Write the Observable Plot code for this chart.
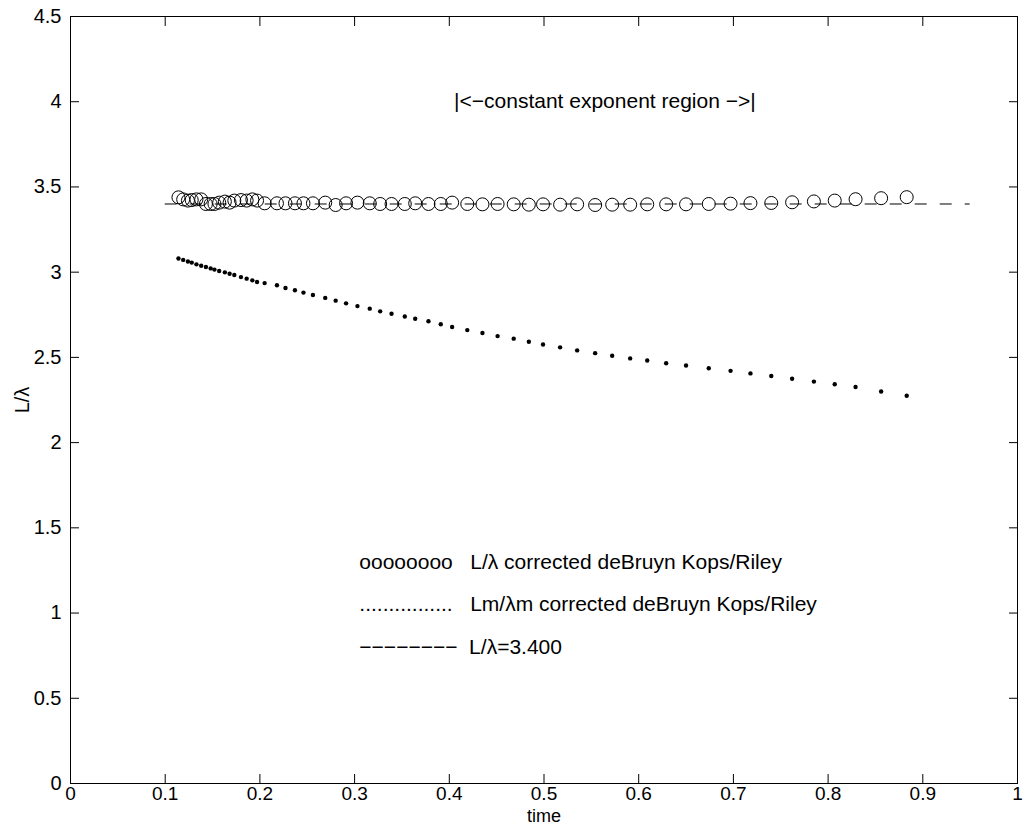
<!DOCTYPE html>
<html>
<head>
<meta charset="utf-8">
<script src="https://cdn.jsdelivr.net/npm/d3@7"></script>
<script src="https://cdn.jsdelivr.net/npm/@observablehq/plot@0.6"></script>
<style>
  html, body { margin: 0; padding: 0; background: #fff; }
  #chart svg { display: block; }
  #chart svg text { font-family: 'Liberation Sans', Arial, sans-serif; }
  #chart svg g[aria-label="y-axis tick label"] text,
  #chart svg g[aria-label="y-axis label"] text { font-size: 20px; }
  #chart svg g[aria-label="x-axis tick label"] text { font-size: 19px; }
  #chart svg g[aria-label="x-axis label"] text { font-size: 18px; }
  #chart svg g[aria-label="text"] text { font-size: 21px; }
</style>
</head>
<body>
<div id="chart"></div>
<script>
// ---- data ----
const time = [0.114, 0.119, 0.124, 0.128, 0.133, 0.138, 0.143, 0.148, 0.152, 0.157,
  0.163, 0.168, 0.173, 0.180, 0.186, 0.192, 0.197, 0.205, 0.218, 0.227,
  0.237, 0.246, 0.256, 0.269, 0.280, 0.291, 0.303, 0.316, 0.327, 0.339,
  0.353, 0.364, 0.378, 0.391, 0.403, 0.419, 0.435, 0.451, 0.468, 0.484,
  0.499, 0.517, 0.535, 0.554, 0.572, 0.591, 0.609, 0.629, 0.650, 0.674,
  0.697, 0.718, 0.740, 0.762, 0.785, 0.807, 0.829, 0.856, 0.883];

const ratioCorrected = [3.439, 3.427, 3.420, 3.423, 3.427, 3.427, 3.400, 3.400, 3.400, 3.408,
  3.414, 3.408, 3.420, 3.423, 3.420, 3.427, 3.420, 3.404, 3.404, 3.404,
  3.404, 3.404, 3.404, 3.408, 3.394, 3.404, 3.408, 3.404, 3.400, 3.400,
  3.400, 3.404, 3.400, 3.400, 3.408, 3.400, 3.398, 3.400, 3.398, 3.396,
  3.398, 3.396, 3.398, 3.394, 3.396, 3.396, 3.398, 3.398, 3.398, 3.400,
  3.402, 3.405, 3.406, 3.410, 3.415, 3.420, 3.428, 3.434, 3.440];

const ratioM = [3.080, 3.072, 3.063, 3.056, 3.046, 3.038, 3.030, 3.022, 3.015, 3.007,
  2.999, 2.991, 2.983, 2.971, 2.962, 2.952, 2.942, 2.936, 2.923, 2.907,
  2.894, 2.880, 2.866, 2.849, 2.833, 2.817, 2.801, 2.786, 2.770, 2.756,
  2.740, 2.727, 2.712, 2.694, 2.678, 2.660, 2.643, 2.625, 2.610, 2.592,
  2.576, 2.559, 2.541, 2.525, 2.510, 2.494, 2.482, 2.466, 2.452, 2.436,
  2.421, 2.406, 2.391, 2.375, 2.358, 2.342, 2.326, 2.300, 2.275];

const constLevel = 3.4;
const constRange = [0.1, 0.95];

const xTicks = [0, 0.1, 0.2, 0.3, 0.4, 0.5, 0.6, 0.7, 0.8, 0.9, 1];
const yTicks = [0, 0.5, 1, 1.5, 2, 2.5, 3, 3.5, 4, 4.5];

const regionLabel = "|<\u2212constant exponent region \u2212>|";
const legendLines = [
  "oooooooo   L/\u03bb corrected deBruyn Kops/Riley",
  "................   Lm/\u03bbm corrected deBruyn Kops/Riley",
  "\u2212\u2212\u2212\u2212\u2212\u2212\u2212\u2212  L/\u03bb=3.400"
];
const legendY = [1.3, 1.05, 0.8];

// ---- build tables ----
const circles = time.map((t, i) => ({t, v: ratioCorrected[i]}));
const dots = time.map((t, i) => ({t, v: ratioM[i]}));
const legend = legendLines.map((s, i) => ({s, y: legendY[i]}));

const chart = Plot.plot({
  width: 1031,
  height: 825,
  marginLeft: 70,
  marginRight: 14,
  marginTop: 16,
  marginBottom: 42,
  style: {fontFamily: "'Liberation Sans', Arial, sans-serif", fontSize: "20px", color: "#000", background: "#fff"},
  x: {domain: [0, 1]},
  y: {domain: [0, 4.5]},
  marks: [
    Plot.frame({stroke: "#000", strokeWidth: 1}),
    // labels
    Plot.axisX(xTicks, {anchor: "bottom", tickSize: 0, tickPadding: 3, label: "time", labelAnchor: "center", labelArrow: "none", labelOffset: 38, tickFormat: d => String(d)}),
    Plot.axisY(yTicks, {anchor: "left", tickSize: 0, tickPadding: 9, label: "L/\u03bb", labelAnchor: "center", labelArrow: "none", labelOffset: 56, tickFormat: d => String(d)}),
    // inward ticks on all four sides
    Plot.axisX(xTicks, {anchor: "bottom", tickSize: -9, text: null, label: null}),
    Plot.axisX(xTicks, {anchor: "top", tickSize: -9, text: null, label: null}),
    Plot.axisY(yTicks, {anchor: "left", tickSize: -9, text: null, label: null}),
    Plot.axisY(yTicks, {anchor: "right", tickSize: -9, text: null, label: null}),
    // constant line
    Plot.ruleY([constLevel], {x1: constRange[0], x2: constRange[1], stroke: "#000", strokeWidth: 1, strokeDasharray: "12,13"}),
    // series
    Plot.dot(circles, {x: "t", y: "v", r: 6.5, stroke: "#000", strokeWidth: 1, fill: "none"}),
    Plot.dot(dots, {x: "t", y: "v", r: 2.2, fill: "#000", stroke: "none"}),
    // annotations
    Plot.text([regionLabel], {x: 0.405, y: 4.0, text: d => d, textAnchor: "start", fill: "#000"}),
    Plot.text(legend, {x: 0.305, y: "y", text: "s", textAnchor: "start", fill: "#000"})
  ]
});
document.getElementById("chart").appendChild(chart);
</script>
</body>
</html>
